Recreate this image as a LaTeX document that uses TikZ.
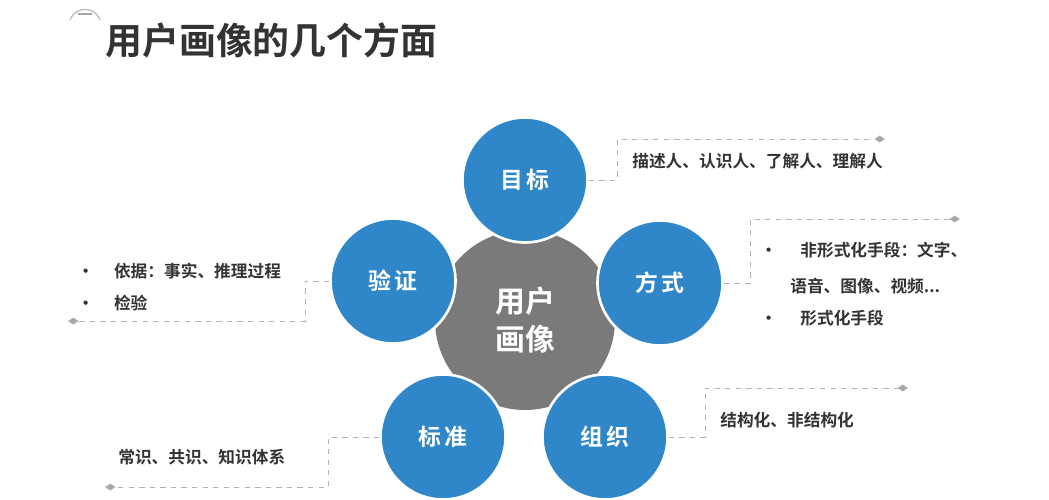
\documentclass[tikz,border=0pt]{standalone}
\usepackage{fontspec}
\setmainfont{Noto Sans CJK SC}
\newfontfamily\cjkbold{Noto Sans CJK SC Bold}
\usetikzlibrary{arrows.meta}
\definecolor{bubble}{HTML}{2F87C9}
\definecolor{hub}{HTML}{7A7A7A}
\definecolor{ink}{HTML}{333333}
\tikzstyle{aspect} = [circle, fill=bubble, draw=white, line width=1.5pt, minimum size=2.5cm, text=white, font=\cjkbold\fontsize{13}{15}\selectfont]
\tikzstyle{leader} = [draw=gray!60, dashed, line width=0.5pt, -{Diamond[length=6pt,width=4pt,fill=gray!70]}]
\tikzstyle{note} = [anchor=west, text=ink, font=\cjkbold\fontsize{9.5}{17}\selectfont, inner sep=0pt]
\begin{document}
\begin{tikzpicture}[x=0.02cm,y=-0.02cm]
\useasboundingbox (0,0) rectangle (1049,500);
% title
\draw [gray!50, line width=0.8pt] (70,20) arc (200:340:16);
\draw [gray!70, line width=0.8pt] (78,14) -- (92,14);
\node [anchor=west, text=ink, font=\cjkbold\fontsize{21}{24}\selectfont, inner sep=0pt] (title) at (105,40) {用户画像的几个方面};
% hub and aspects
\node [circle, fill=hub, minimum size=3.6cm, text=white, font=\cjkbold\fontsize{17}{22}\selectfont, align=center] (hub) at (525,320) {用户\\画像};
\node [aspect] (goal) at (525,180) {目\,标};
\node [aspect] (way) at (660,283) {方\,式};
\node [aspect] (org) at (605,437) {组\,织};
\node [aspect] (std) at (443,437) {标\,准};
\node [aspect] (check) at (393,281) {验\,证};
% leaders
\coordinate (g1) at (885,139);
\coordinate (w1) at (960,219);
\coordinate (o1) at (908,388);
\coordinate (s1) at (105,487);
\coordinate (c1) at (68,321);
\draw [leader] (goal.east) -- (617,180) -- (617,139) -- (g1);
\draw [leader] (way.east) -- (750,283) -- (750,219) -- (w1);
\draw [leader] (org.east) -- (705,437) -- (705,388) -- (o1);
\draw [leader] (std.west) -- (328,437) -- (328,487) -- (s1);
\draw [leader] (check.west) -- (305,281) -- (305,321) -- (c1);
% notes
\node [note] (goaltext) at (632,161) {描述人、认识人、了解人、理解人};
\node [note] (waytext1) at (760,250) {•\hspace{1.4em}非形式化手段：文字、};
\node [note] (waytext2) at (790,286) {语音、图像、视频...};
\node [note] (waytext3) at (760,318) {•\hspace{1.4em}形式化手段};
\node [note] (orgtext) at (720,420) {结构化、非结构化};
\node [note] (stdtext) at (118,457) {常识、共识、知识体系};
\node [note] (checktext1) at (77,271) {•\hspace{1.2em}依据：事实、推理过程};
\node [note] (checktext2) at (77,303) {•\hspace{1.2em}检验};
\end{tikzpicture}
\end{document}
